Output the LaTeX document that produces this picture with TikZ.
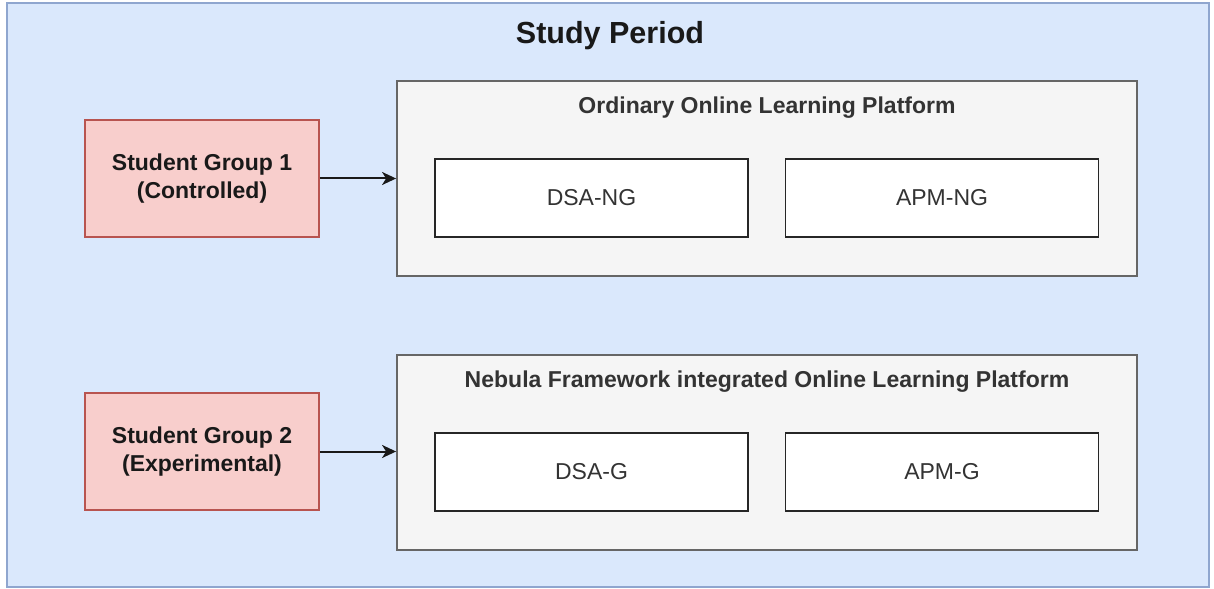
\documentclass[tikz,border=0pt]{standalone}
\usepackage{fontspec}
\setmainfont{Liberation Sans}
\usetikzlibrary{arrows.meta}
\definecolor{periodfill}{HTML}{DAE8FC}
\definecolor{periodline}{HTML}{8FA6CF}
\definecolor{groupfill}{HTML}{F8CECC}
\definecolor{groupline}{HTML}{B85450}
\definecolor{platfill}{HTML}{F5F5F5}
\definecolor{platline}{HTML}{666666}
\definecolor{plattext}{HTML}{333333}
\tikzset{
  box/.style={rectangle, inner sep=0pt, line width=1.8bp},
  period/.style={box, draw=periodline, fill=periodfill},
  group/.style={box, draw=groupline, fill=groupfill, text=black!90,
    align=center, font=\fontsize{23bp}{28bp}\selectfont\bfseries,
    minimum width=234bp, minimum height=117bp},
  platform/.style={box, draw=platline, fill=platfill,
    minimum width=740bp, minimum height=195bp},
  plattitle/.style={inner sep=0pt, text=plattext,
    font=\fontsize{23bp}{28bp}\selectfont\bfseries},
  course/.style={box, draw=black!85, fill=white, text=plattext,
    font=\fontsize{23bp}{28bp}\selectfont,
    minimum width=313bp, minimum height=78bp},
  link/.style={line width=2bp, draw=black!90,
    -{Stealth[length=14bp, width=13bp, inset=4bp]}}
}
\begin{document}
\begin{tikzpicture}[x=1bp, y=-1bp]
  \useasboundingbox (0,0) rectangle (1214,589);
  % overall study period container
  \node[period, minimum width=1202bp, minimum height=584bp] (period) at (608,295) {};
  \node[inner sep=0pt, font=\fontsize{30.5bp}{36bp}\selectfont\bfseries, text=black!90]
    (title) at (610,36) {Study Period};

  % student groups
  \node[group] (g1) at (202,178.5) {Student Group 1\\(Controlled)};
  \node[group] (g2) at (202,451.5) {Student Group 2\\(Experimental)};

  % learning platforms
  \node[platform] (p1) at (767,178.5) {};
  \node[plattitle] (p1t) at (767,108) {Ordinary Online Learning Platform};
  \node[platform] (p2) at (767,452.5) {};
  \node[plattitle] (p2t) at (767,382) {Nebula Framework integrated Online Learning Platform};

  % course modules
  \node[course] (dsang) at (591.5,198) {DSA-NG};
  \node[course] (apmng) at (942,198) {APM-NG};
  \node[course] (dsag) at (591.5,472) {DSA-G};
  \node[course] (apmg) at (942,472) {APM-G};

  % group -> platform
  \draw[link] (g1.east) -- (g1.east -| p1.west);
  \draw[link] (g2.east) -- (g2.east -| p2.west);
\end{tikzpicture}
\end{document}
